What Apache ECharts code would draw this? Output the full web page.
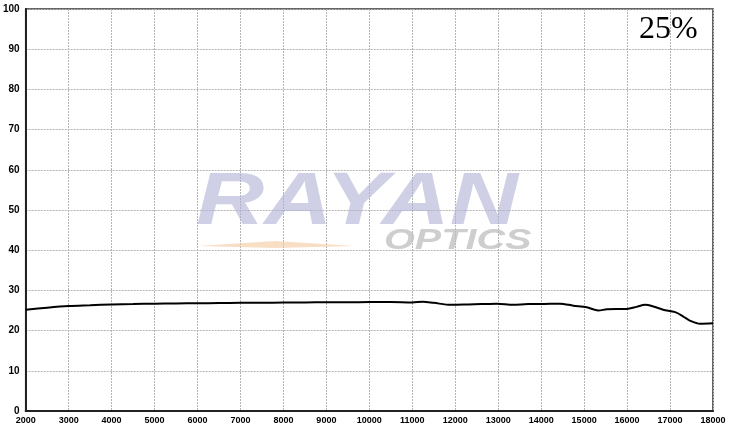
<!DOCTYPE html>
<html><head><meta charset="utf-8">
<script src="https://cdn.jsdelivr.net/npm/echarts@6/dist/echarts.min.js"></script>
<style>html,body{margin:0;padding:0;background:#fff}#c{width:730px;height:429px}</style>
</head><body><div id="c"></div>
<script>
const wavenumbers = [2000,2500,3000,3500,4000,4500,5000,5500,6000,6500,7000,7500,8000,8500,9000,9500,10000,10500,11000,11250,11500,11900,12300,12600,12970,13350,13700,13980,14440,14750,15060,15330,15530,15990,16220,16420,16610,16840,17120,17310,17460,17700,18000];
const transmission = [25.2,25.7,26.1,26.3,26.5,26.6,26.7,26.75,26.8,26.85,26.9,26.9,27.0,27.0,27.05,27.05,27.1,27.1,27.0,27.2,26.9,26.4,26.5,26.6,26.7,26.4,26.6,26.6,26.7,26.2,25.8,25.0,25.3,25.4,25.9,26.4,26.0,25.2,24.6,23.5,22.5,21.7,21.8];
const label = '25%';
const chart = echarts.init(document.getElementById('c'), null, {renderer:'canvas'});
chart.setOption({
  animation:false,
  grid:{left:25,right:17,top:9,bottom:18,show:true,borderColor:'#333',borderWidth:1.5,backgroundColor:'transparent'},
  xAxis:{type:'value',min:2000,max:18000,interval:1000,
    axisLine:{show:true,onZero:false,lineStyle:{color:'#222',width:2}},
    axisTick:{show:false},
    axisLabel:{color:'#000',fontFamily:'Liberation Sans',fontWeight:'bold',fontSize:9,margin:5,formatter:v=>String(v)},
    splitLine:{show:true,lineStyle:{color:'#b5b5b5',type:[2,1],width:1}}},
  yAxis:{type:'value',min:0,max:100,interval:10,
    axisLine:{show:true,onZero:false,lineStyle:{color:'#222',width:2}},
    axisTick:{show:false},
    axisLabel:{color:'#000',fontFamily:'Liberation Sans',fontWeight:'bold',fontSize:10,margin:6},
    splitLine:{show:true,lineStyle:{color:'#b5b5b5',type:[2,1],width:1}}},
  graphic:[
    {type:'polygon',z:1,shape:{points:[[198,246],[275,241],[355,246],[275,248]]},style:{fill:'rgba(245,200,160,0.6)'}},
    {type:'text',z:1,x:196,y:166,scaleX:1.26,style:{text:'RAYAN',font:'italic bold 75px "Liberation Sans"',fill:'rgba(175,177,212,0.6)'}},
    {type:'text',z:1,x:384,y:226,scaleX:1.32,style:{text:'OPTICS',font:'italic bold 30px "Liberation Sans"',fill:'rgba(190,190,190,0.75)'}},
    {type:'text',z:10,x:639,y:14,style:{text:label,font:'32px "Liberation Serif"',fill:'#000'}}
  ],
  series:[{type:'line',data:wavenumbers.map((w,i)=>[w,transmission[i]]),smooth:0.3,showSymbol:false,
    lineStyle:{color:'#000',width:2},z:5}]
});
</script></body></html>
